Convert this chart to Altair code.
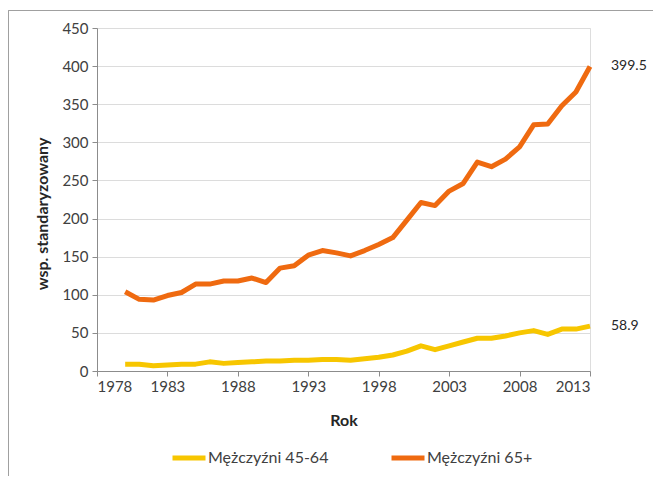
import altair as alt
import pandas as pd

years = list(range(1980, 2014))
men_45_64 = [9, 9, 7, 8, 9, 9, 12, 10, 11, 12, 13, 13, 14, 14, 15, 15, 14,
             16, 18, 21, 26, 33, 28, 33, 38, 43, 43, 46, 50, 53, 48, 55, 55, 58.9]
men_65 = [104, 94, 93, 99, 103, 114, 114, 118, 118, 122, 116, 135, 138, 152, 158, 155, 151,
          158, 166, 175, 198, 221, 217, 236, 246, 274, 268, 278, 294, 323, 324, 348, 366, 399.5]
series_names = ["Mężczyźni 45-64", "Mężczyźni 65+"]
colors = ["#F7C600", "#EF6A10"]
end_labels = ["58.9", "399.5"]
x_ticks = list(range(1978, 2014, 5))
y_ticks = list(range(0, 451, 50))

rows = []
for y, a, b in zip(years, men_45_64, men_65):
    rows.append({"Rok": y, "val": a, "series": series_names[0]})
    rows.append({"Rok": y, "val": b, "series": series_names[1]})
df = pd.DataFrame(rows)

lab_df = pd.DataFrame({
    "Rok": [years[-1], years[-1]],
    "val": [men_45_64[-1], men_65[-1]],
    "label": end_labels,
})

FONT = "Lato"

x_enc = alt.X(
    "Rok:Q",
    scale=alt.Scale(domain=[1978, 2013], nice=False, zero=False),
    axis=alt.Axis(
        values=x_ticks,
        format="d",
        grid=False,
        domainColor="#8C8C8C",
        tickColor="#8C8C8C",
        tickSize=5,
        labelFontSize=15,
        labelColor="#404040",
        labelPadding=3,
        labelOverlap=False,
        title="Rok",
        titleFontSize=16,
        titleFontWeight="bold",
        titleColor="#262626",
        titlePadding=18,
        labelFont=FONT,
        titleFont=FONT,
    ),
)
y_enc = alt.Y(
    "val:Q",
    scale=alt.Scale(domain=[0, 450], nice=False),
    axis=alt.Axis(
        values=y_ticks,
        grid=True,
        gridColor="#DCDCDC",
        domainColor="#8C8C8C",
        tickColor="#8C8C8C",
        tickSize=5,
        labelFontSize=15,
        labelColor="#404040",
        labelPadding=4,
        labelOverlap=False,
        title="wsp. standaryzowany",
        titleFontSize=16,
        titleFontWeight="bold",
        titleColor="#262626",
        titlePadding=11,
        titleY=185.5,
        labelFont=FONT,
        titleFont=FONT,
    ),
)

lines = alt.Chart(df).mark_line(strokeWidth=5, strokeJoin="round").encode(
    x=x_enc,
    y=y_enc,
    color=alt.Color(
        "series:N",
        scale=alt.Scale(domain=series_names, range=colors),
        legend=alt.Legend(
            title=None,
            orient="none",
            legendX=73,
            legendY=411,
            direction="horizontal",
            symbolType="stroke",
            symbolSize=1089,
            symbolStrokeWidth=5,
            labelFontSize=16,
            labelColor="#404040",
            labelFont=FONT,
            labelOffset=0,
            columnPadding=52,
        ),
    ),
)

labels = alt.Chart(lab_df).mark_text(
    align="left", dx=21, fontSize=14, color="#262626", font=FONT
).encode(x=x_enc, y=y_enc, text="label:N")

border = alt.Chart(lab_df).mark_rect(filled=False, stroke="#A0A0A0", strokeWidth=1).encode(
    x=alt.value(-88.5), x2=alt.value(700), y=alt.value(-17.5), y2=alt.value(600)
)

chart = alt.layer(lines, labels, border).properties(
    width=493,
    height=343,
    autosize=alt.AutoSizeParams(type="none"),
    padding={"left": 89, "top": 20, "right": 63, "bottom": 105},
).configure_view(stroke=None).configure(background="white")

chart.save("out.html", embed_options={"renderer": "svg", "actions": False})
